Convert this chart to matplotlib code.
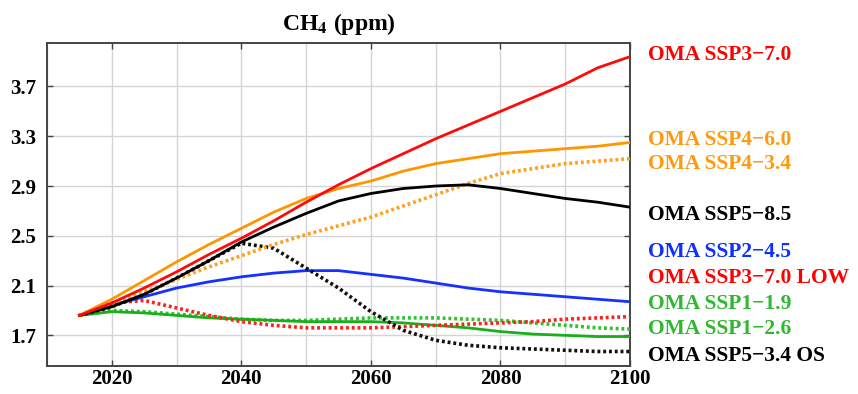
import matplotlib
matplotlib.use("Agg")
import matplotlib.pyplot as plt

years = [2015, 2020, 2025, 2030, 2035, 2040, 2045, 2050, 2055, 2060,
         2065, 2070, 2075, 2080, 2085, 2090, 2095, 2100]

ssp370 = [1.86, 1.96, 2.08, 2.21, 2.35, 2.48, 2.62, 2.77, 2.91, 3.04,
          3.16, 3.28, 3.39, 3.50, 3.61, 3.72, 3.85, 3.94]
ssp460 = [1.86, 1.99, 2.14, 2.29, 2.43, 2.56, 2.69, 2.80, 2.88, 2.94,
          3.02, 3.08, 3.12, 3.16, 3.18, 3.20, 3.22, 3.25]
ssp434 = [1.86, 1.95, 2.05, 2.15, 2.25, 2.34, 2.43, 2.51, 2.58, 2.65,
          2.74, 2.83, 2.92, 3.00, 3.04, 3.08, 3.10, 3.12]
ssp585 = [1.86, 1.93, 2.03, 2.16, 2.30, 2.45, 2.57, 2.68, 2.78, 2.84,
          2.88, 2.90, 2.91, 2.88, 2.84, 2.80, 2.77, 2.73]
ssp245 = [1.86, 1.94, 2.01, 2.08, 2.13, 2.17, 2.20, 2.22, 2.22, 2.19,
          2.16, 2.12, 2.08, 2.05, 2.03, 2.01, 1.99, 1.97]
ssp370low = [1.86, 1.96, 1.98, 1.92, 1.86, 1.81, 1.78, 1.76, 1.76, 1.76,
             1.77, 1.78, 1.79, 1.80, 1.81, 1.83, 1.84, 1.85]
ssp119 = [1.86, 1.90, 1.89, 1.87, 1.85, 1.83, 1.82, 1.82, 1.83, 1.84,
          1.84, 1.84, 1.83, 1.82, 1.80, 1.78, 1.76, 1.75]
ssp126 = [1.86, 1.89, 1.88, 1.86, 1.84, 1.83, 1.82, 1.81, 1.81, 1.81,
          1.80, 1.78, 1.76, 1.73, 1.71, 1.70, 1.69, 1.69]
ssp534os = [1.86, 1.93, 2.03, 2.16, 2.30, 2.44, 2.40, 2.24, 2.08, 1.89,
            1.74, 1.66, 1.62, 1.60, 1.59, 1.58, 1.57, 1.57]

series = [
    ("OMA SSP3\u22127.0", ssp370, "#ff0a0a", "-"),
    ("OMA SSP4\u22126.0", ssp460, "#ff9600", "-"),
    ("OMA SSP4\u22123.4", ssp434, "#ffa020", ":"),
    ("OMA SSP5\u22128.5", ssp585, "#000000", "-"),
    ("OMA SSP2\u22124.5", ssp245, "#1530ff", "-"),
    ("OMA SSP3\u22127.0 LOW", ssp370low, "#ff2020", ":"),
    ("OMA SSP1\u22121.9", ssp119, "#30c030", ":"),
    ("OMA SSP1\u22122.6", ssp126, "#18b018", "-"),
    ("OMA SSP5\u22123.4 OS", ssp534os, "#101010", ":"),
]
label_y = [3.956, 3.268, 3.076, 2.668, 2.372, 2.164, 1.948, 1.748, 1.532]
text_colors = ["#ff0000", "#ff9a10", "#ff9a10", "#000000", "#1030ff",
               "#ff0000", "#30b830", "#30b830", "#000000"]

plt.rcParams['font.family'] = ['Liberation Serif', 'DejaVu Serif']
plt.rcParams['mathtext.fontset'] = 'stix'

fig = plt.figure(figsize=(8.58, 3.94), dpi=100)
ax = fig.add_axes([0.0548, 0.07, 0.6795, 0.821])

draw_order = [6, 7, 5, 4, 8, 2, 3, 1, 0]
for i in draw_order:
    name, vals, col, ls = series[i]
    if ls == "-":
        ax.plot(years, vals, color=col, lw=2.0, ls="-", zorder=3)
    else:
        ax.plot(years, vals, color=col, lw=2.6, ls=(0, (0.8, 0.8)), zorder=3)

for (name, vals, col, ls), ly, tc in zip(series, label_y, text_colors):
    ax.annotate(name, xy=(1.031, ly), xycoords=('axes fraction', 'data'),
                color=tc, fontsize=15.5, fontweight='bold', va='center',
                ha='left', annotation_clip=False)

ax.set_xlim(2010, 2100)
ax.set_ylim(1.45, 4.05)
ax.set_xticks([2020, 2040, 2060, 2080, 2100])
ax.set_xticks(range(2010, 2101, 10), minor=True)
ax.set_yticks([1.7, 2.1, 2.5, 2.9, 3.3, 3.7])
ax.set_yticklabels(["1.7", "2.1", "2.5", "2.9", "3.3", "3.7"])
ax.grid(True, which='both', axis='x', color='#d4d4d4', lw=1.0, zorder=0)
ax.grid(True, which='major', axis='y', color='#d4d4d4', lw=1.0, zorder=0)
ax.tick_params(axis='both', which='major', direction='in', length=4,
               width=1.0, top=True, right=True, labelsize=15, color='#444444')
ax.tick_params(axis='x', which='minor', length=0)
ax.tick_params(axis='x', pad=2)
ax.tick_params(axis='y', pad=8)
for lab in ax.get_xticklabels() + ax.get_yticklabels():
    lab.set_fontweight('bold')
for sp in ax.spines.values():
    sp.set_color('#444444')
    sp.set_linewidth(1.4)

ax.set_title(r'CH$_\mathbf{4}$ (ppm)', fontsize=17, fontweight='bold', pad=9)

fig.savefig("out.png", dpi=100)
